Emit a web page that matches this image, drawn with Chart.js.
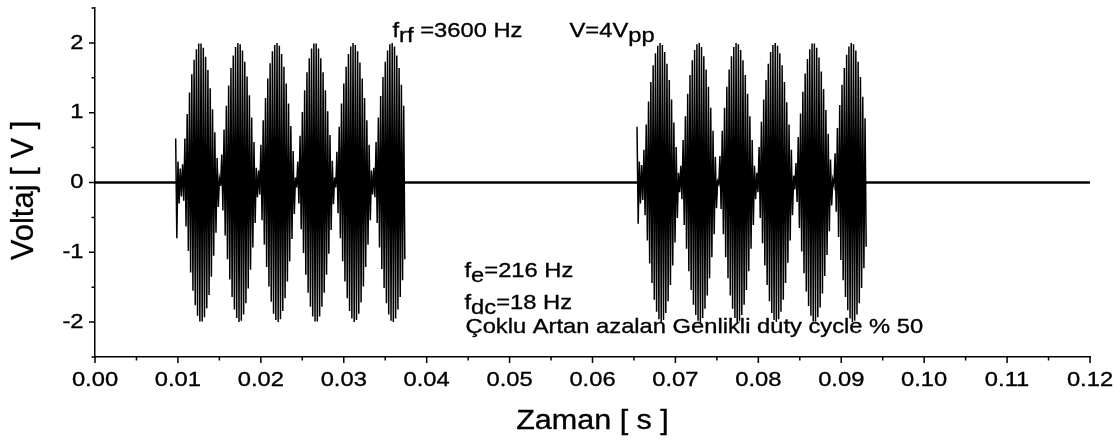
<!DOCTYPE html>
<html><head><meta charset="utf-8">
<script src="https://cdn.jsdelivr.net/npm/chart.js@4.4.1/dist/chart.umd.min.js"></script>
<style>html,body{margin:0;padding:0;background:#fff}canvas{display:block}</style>
</head><body>
<canvas id="c" width="1120" height="441"></canvas>
<script>
// ---------- data ----------
const carrierHz = 3600;                 // f_rf
const burstStarts = [0.00973, 0.06537]; // s, onset of each burst
const burstOnsetLows = [-0.80, -0.59];  // V, first negative swing (transient)
// positive peak of every carrier cycle (V), burst 1
const burst1Amp = [
  0.63,0.30,0.20,0.26,0.63,0.98,1.29,1.55,1.76,1.91,
  1.99,1.99,1.93,1.80,1.61,1.35,1.05,0.72,0.35,0.05,
  0.40,0.76,1.10,1.39,1.64,1.82,1.94,2.00,1.98,1.89,
  1.73,1.52,1.25,0.93,0.58,0.21,0.17,0.54,0.89,1.21,
  1.49,1.71,1.88,1.97,2.00,1.96,1.84,1.66,1.42,1.13,
  0.81,0.45,0.07,0.30,0.67,1.01,1.32,1.58,1.78,1.92,
  1.99,1.99,1.92,1.78,1.58,1.32,1.02,0.68,0.31,0.07,
  0.44,0.80,1.13,1.42,1.66,1.84,1.95,2.00,1.97,1.88,
  1.72,1.49,1.21,0.89,0.54,0.17,0.21,0.58,0.93,1.24,
  1.51,1.73,1.89,1.98,2.00,1.95,1.82,1.64,1.40,1.10
];
// positive peak of every carrier cycle (V), burst 2
const burst2Amp = [
  0.80,0.30,0.25,0.47,0.83,1.16,1.44,1.68,1.85,1.96,
  2.00,1.97,1.87,1.70,1.47,1.19,0.86,0.51,0.14,0.24,
  0.61,0.95,1.27,1.54,1.75,1.90,1.98,2.00,1.94,1.81,
  1.62,1.37,1.07,0.74,0.37,0.02,0.38,0.74,1.07,1.37,
  1.62,1.81,1.94,2.00,1.98,1.90,1.75,1.54,1.27,0.95,
  0.61,0.24,0.14,0.51,0.87,1.19,1.47,1.70,1.87,1.97,
  2.00,1.96,1.85,1.68,1.44,1.15,0.83,0.47,0.10,0.28,
  0.65,0.99,1.30,1.56,1.77,1.91,1.99,1.99,1.93,1.79,
  1.59,1.34,1.04,0.70,0.33,0.04,0.42,0.78,1.11,1.40,
  1.64,1.83,1.95,2.00,1.98,1.89,1.73,1.51,1.23,0.92
];
const baselineTimes = [0, 0.12];
const baselineVolts = [0, 0];

const xTickValues = [0,0.01,0.02,0.03,0.04,0.05,0.06,0.07,0.08,0.09,0.10,0.11,0.12];
const xTickLabels = ['0.00','0.01','0.02','0.03','0.04','0.05','0.06','0.07','0.08','0.09','0.10','0.11','0.12'];
const xMinorTicks = [0.005,0.015,0.025,0.035,0.045,0.055,0.065,0.075,0.085,0.095,0.105,0.115];
const yTickValues = [-2,-1,0,1,2];
const yTickLabels = ['-2','-1','0','1','2'];
const yMinorTicks = [-2.5,-1.5,-0.5,0.5,1.5,2.5];
const xTitle = 'Zaman [ s ]';
const yTitle = 'Voltaj [ V ]';
// annotation texts: [text, isSubscript]
const noteRf  = [['f',0],['rf',1],[' =3600 Hz',0]];
const noteV   = [['V=4V',0],['pp',1]];
const noteFe  = [['f',0],['e',1],['=216 Hz',0]];
const noteFdc = [['f',0],['dc',1],['=18 Hz',0]];
const noteDesc = [['Çoklu Artan azalan Genlikli duty cycle % 50',0]];

// ---------- build datasets ----------
function buildBurst(amps, b) {
  const pts = [];
  amps.forEach((a, k) => {
    pts.push({x: burstStarts[b] + k / carrierHz, y: a});
    pts.push({x: burstStarts[b] + (k + 0.5) / carrierHz, y: k === 0 ? burstOnsetLows[b] : -a});
  });
  return pts;
}
const baselineData = baselineTimes.map((t, i) => ({x: t, y: baselineVolts[i]}));

const FONT = "'Liberation Sans', Arial, sans-serif";
const SX = 1.13;
const TXT_STROKE = 0.35;

function paintText(ctx, t, x, y) {
  ctx.fillText(t, x, y);
  ctx.strokeText(t, x, y);
}

function drawRich(ctx, parts, x, y, size) {
  ctx.save();
  ctx.font = size + 'px ' + FONT;
  ctx.fillStyle = '#000';
  ctx.strokeStyle = '#000';
  ctx.lineWidth = TXT_STROKE;
  ctx.textBaseline = 'alphabetic';
  ctx.textAlign = 'left';
  ctx.translate(x, y);
  ctx.scale(SX, 1);
  let cx = 0;
  parts.forEach(([t, sub]) => {
    paintText(ctx, t, cx, sub ? 5 : 0);
    cx += ctx.measureText(t).width;
  });
  ctx.restore();
}

const decor = {
  id: 'decor',
  afterDraw(chart) {
    const ctx = chart.ctx;
    const xs = chart.scales.x, ys = chart.scales.y;
    const axY = ys.getPixelForValue(-2.5);
    const axX = xs.getPixelForValue(0);
    ctx.save();
    ctx.strokeStyle = '#000';
    ctx.lineWidth = 1.5;
    ctx.beginPath();
    xTickValues.forEach(v => { const p = xs.getPixelForValue(v); ctx.moveTo(p, axY); ctx.lineTo(p, axY + 6); });
    xMinorTicks.forEach(v => { const p = xs.getPixelForValue(v); ctx.moveTo(p, axY); ctx.lineTo(p, axY + 3.5); });
    yTickValues.forEach(v => { const p = ys.getPixelForValue(v); ctx.moveTo(axX, p); ctx.lineTo(axX - 6, p); });
    yMinorTicks.forEach(v => { const p = ys.getPixelForValue(v); ctx.moveTo(axX, p); ctx.lineTo(axX - 3.5, p); });
    ctx.stroke();

    ctx.fillStyle = '#000';
    ctx.lineWidth = TXT_STROKE;
    ctx.font = '21px ' + FONT;
    ctx.textBaseline = 'middle';
    xTickValues.forEach((v, i) => {
      ctx.save(); ctx.translate(xs.getPixelForValue(v), axY + 23); ctx.scale(SX, 1);
      ctx.textAlign = 'center'; paintText(ctx, xTickLabels[i], 0, 0); ctx.restore();
    });
    yTickValues.forEach((v, i) => {
      ctx.save(); ctx.translate(axX - 11.5, ys.getPixelForValue(v)); ctx.scale(SX, 1);
      ctx.textAlign = 'right'; paintText(ctx, yTickLabels[i], 0, 0); ctx.restore();
    });
    // axis titles
    ctx.font = '27px ' + FONT;
    ctx.textBaseline = 'alphabetic';
    ctx.save(); ctx.translate((xs.left + xs.right) / 2, 429); ctx.scale(SX, 1);
    ctx.textAlign = 'center'; paintText(ctx, xTitle, 0, 0); ctx.restore();
    ctx.font = '31px ' + FONT;
    ctx.save(); ctx.translate(33, (ys.top + ys.bottom) / 2 + 8); ctx.rotate(-Math.PI / 2);
    ctx.textAlign = 'center'; paintText(ctx, yTitle, 0, 0); ctx.restore();
    ctx.restore();

    drawRich(ctx, noteRf, 392.5, 37, 21);
    drawRich(ctx, noteV, 569.5, 37, 21);
    drawRich(ctx, noteFe, 464.5, 277, 21);
    drawRich(ctx, noteFdc, 464.5, 309, 21);
    drawRich(ctx, noteDesc, 465.5, 333, 21);
  }
};

new Chart(document.getElementById('c'), {
  type: 'line',
  data: {
    datasets: [
      {data: buildBurst(burst1Amp, 0), borderColor: '#000', borderWidth: 1.5, pointRadius: 0, tension: 0, fill: false},
      {data: buildBurst(burst2Amp, 1), borderColor: '#000', borderWidth: 1.5, pointRadius: 0, tension: 0, fill: false},
      {data: baselineData, borderColor: '#000', borderWidth: 2.5, pointRadius: 0, tension: 0, fill: false}
    ]
  },
  options: {
    responsive: false,
    devicePixelRatio: 1,
    animation: false,
    parsing: false,
    layout: {padding: {top: 8, right: 30, left: 0, bottom: 0}},
    plugins: {legend: {display: false}, tooltip: {enabled: false}},
    scales: {
      x: {type: 'linear', min: 0, max: 0.12, position: 'bottom',
          grid: {display: false, drawTicks: false}, ticks: {display: false},
          border: {display: true, color: '#000', width: 1.5},
          afterFit(s) { s.height = 84; }},
      y: {type: 'linear', min: -2.5, max: 2.5, position: 'left',
          grid: {display: false, drawTicks: false}, ticks: {display: false},
          border: {display: true, color: '#000', width: 1.5},
          afterFit(s) { s.width = 95; }}
    }
  },
  plugins: [decor]
});
</script>
</body></html>
